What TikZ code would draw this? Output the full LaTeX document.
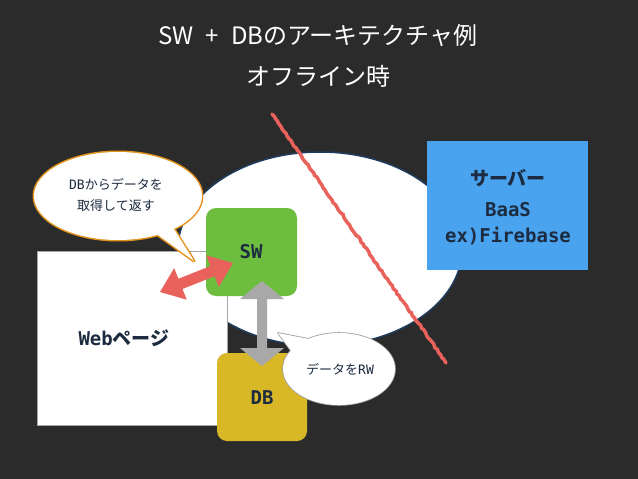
\documentclass[tikz,border=0pt]{standalone}
\usepackage{fontspec}
\setmainfont{Noto Sans CJK JP}
\newfontfamily\monof{DejaVu Sans Mono}
\usetikzlibrary{calc,decorations.pathmorphing}
\definecolor{bg}{HTML}{2B2B2B}
\definecolor{navy}{HTML}{1C2B3F}
\definecolor{srvblue}{HTML}{4AA3EE}
\definecolor{swgreen}{HTML}{6DBE3E}
\definecolor{dbyellow}{HTML}{D9B828}
\definecolor{redarr}{HTML}{E8615A}
\definecolor{grayarr}{HTML}{A8A8A8}
\definecolor{bubor}{HTML}{E3921C}
\definecolor{ellline}{HTML}{1E3C5E}
\newcommand\blockdarrow[6]{%
 \path (#1) coordinate (ba-a) (#2) coordinate (ba-b);
 \path ($(ba-a)!#3!(ba-b)$) coordinate (ba-h1) ($(ba-b)!#3!(ba-a)$) coordinate (ba-h2);
 \fill[#6] (ba-a) -- ($(ba-h1)!#4!90:(ba-b)$) -- ($(ba-h1)!#5!90:(ba-b)$)
   -- ($(ba-h2)!#5!-90:(ba-a)$) -- ($(ba-h2)!#4!-90:(ba-a)$) -- (ba-b)
   -- ($(ba-h2)!#4!90:(ba-a)$) -- ($(ba-h2)!#5!90:(ba-a)$)
   -- ($(ba-h1)!#5!-90:(ba-b)$) -- ($(ba-h1)!#4!-90:(ba-b)$) -- cycle;}
\tikzset{
  titlet/.style={text=white, font=\fontsize{24}{28}\selectfont, inner sep=0},
  boxlabel/.style={text=navy, font=\fontsize{19}{23}\selectfont\bfseries, align=center, inner sep=0},
  bubtext/.style={text=navy, font=\fontsize{13}{21}\selectfont, align=center, inner sep=0},
  rbox/.style={rounded corners=10pt},
}
\begin{document}
\begin{tikzpicture}[x=1pt,y=-1pt]
\fill[bg] (0,0) rectangle (638,479);
\useasboundingbox (0,0) rectangle (638,479);

% title
\node[titlet] (t1) at (318,36) {SW\hspace{0.5em}+\hspace{0.5em}DBのアーキテクチャ例};
\node[titlet] (t2) at (318,76) {オフライン時};

% big ellipse
\fill[white, draw=ellline, line width=1.5pt] (320,249) ellipse [x radius=142pt, y radius=97pt];

% server
\fill[srvblue] (427,141) rectangle (588,270);
\node[boxlabel] (srv) at (508,178) {サーバー};
\node[boxlabel] (baas) at (508,210) {\monof\bfseries BaaS};
\node[boxlabel] (fb) at (508,236) {\monof\bfseries ex)Firebase};

% red cross line
\coordinate (rl1) at (272,114);
\coordinate (rl2) at (446,363);
\draw[redarr, line width=3.5pt, line cap=round, decorate, decoration={random steps, segment length=3pt, amplitude=0.8pt}] (rl1) -- (rl2);

% web page
\fill[white, draw=gray!70, line width=0.6pt] (37,251) rectangle (227,425);
\node[boxlabel] (web) at (124,338) {{\monof\bfseries Web}ページ};

% SW and DB
\fill[swgreen, rbox] (206,208) rectangle (297,296);
\node[boxlabel] (sw) at (251,252) {\monof\bfseries SW};
\fill[dbyellow, rbox] (217,353) rectangle (307,441);
\node[boxlabel] (db) at (262,398) {\monof\bfseries DB};

% gray double arrow SW <-> DB
\coordinate (ga1) at (262,281);
\coordinate (ga2) at (262,366);
\blockdarrow{ga1}{ga2}{18pt}{22pt}{5pt}{grayarr}

% red double arrow web <-> SW
\coordinate (ra1) at (160,292);
\coordinate (ra2) at (233,263);
\blockdarrow{ra1}{ra2}{22pt}{17pt}{5.5pt}{redarr}

% bubble 1
\draw[bubor, line width=3pt, line join=round] (118,196) ellipse [x radius=84pt, y radius=44pt];
\draw[bubor, line width=3pt, line join=round] (151,230) -- (194,261) -- (174,229) -- cycle;
\fill[white] (118,196) ellipse [x radius=84pt, y radius=44pt];
\fill[white] (151,230) -- (194,261) -- (174,229) -- cycle;
\node[bubtext] (b1) at (116,195) {{\monof DB}からデータを\\取得して返す};

% bubble 2
\draw[gray!75, line width=1.6pt, line join=round] (339,369) ellipse [x radius=56pt, y radius=36pt];
\draw[gray!75, line width=1.6pt, line join=round] (292,352) -- (278,333) -- (314,340) -- cycle;
\fill[white] (339,369) ellipse [x radius=56pt, y radius=36pt];
\fill[white] (292,352) -- (278,333) -- (314,340) -- cycle;
\node[bubtext] (b2) at (340,369) {データを{\monof RW}};
\end{tikzpicture}
\end{document}
